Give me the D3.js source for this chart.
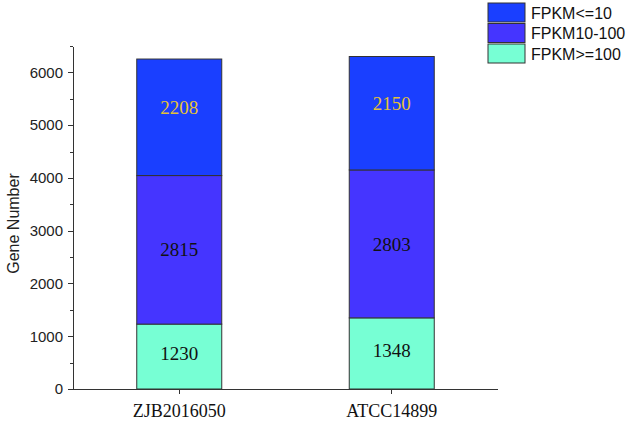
<!DOCTYPE html>
<html>
<head>
    <meta charset="utf-8">
    <title>Gene Number</title>
    <script src="https://cdn.jsdelivr.net/npm/d3@7"></script>
    <style>
        body { margin: 0; background: #fff; }
        .axis path, .axis line { stroke: #333; shape-rendering: crispEdges; }
        .axis text { font: 15px Arial, "Liberation Sans", sans-serif; fill: #222; }
        .x.axis text { font: 18px "Times New Roman", "Liberation Serif", serif; fill: #111; }
    </style>
</head>
<body>
<script>

var strains = ["ZJB2016050", "ATCC14899"];
var groups = ["FPKM>=100", "FPKM10-100", "FPKM<=10"];
var fpkmHigh = [1230, 1348];
var fpkmMid = [2815, 2803];
var fpkmLow = [2208, 2150];
var yTicks = [0, 1000, 2000, 3000, 4000, 5000, 6000];
var legendOrder = ["FPKM<=10", "FPKM10-100", "FPKM>=100"];

var colors = {
    "FPKM>=100": "#77ffd4",
    "FPKM10-100": "#4535ff",
    "FPKM<=10": "#1a3fff"
};
var labelColors = {
    "FPKM>=100": "#111",
    "FPKM10-100": "#111",
    "FPKM<=10": "#e6c235"
};

var width = 630, height = 422;
var margin = {left: 73, right: 132, top: 46, bottom: 33};

var table = strains.map(function(s, i) {
    return {strain: s, "FPKM>=100": fpkmHigh[i], "FPKM10-100": fpkmMid[i], "FPKM<=10": fpkmLow[i]};
});
var stacked = d3.stack().keys(groups)(table);

var svg = d3.select("body").append("svg")
    .attr("width", width)
    .attr("height", height);

var x = d3.scaleBand()
    .domain(strains)
    .range([margin.left, width - margin.right])
    .paddingInner(0.6)
    .paddingOuter(0.3);

var y = d3.scaleLinear()
    .domain([0, 6500])
    .range([height - margin.bottom, margin.top]);

// bars
var layer = svg.selectAll(".layer")
    .data(stacked)
  .enter().append("g")
    .attr("class", "layer")
    .attr("fill", function(d) { return colors[d.key]; });

layer.selectAll("rect")
    .data(function(d) { return d; })
  .enter().append("rect")
    .attr("x", function(d) { return x(d.data.strain); })
    .attr("width", x.bandwidth())
    .attr("y", function(d) { return y(d[1]); })
    .attr("height", function(d) { return y(d[0]) - y(d[1]); })
    .attr("stroke", "#333")
    .attr("stroke-width", 1);

// value labels
layer.selectAll("text")
    .data(function(d) { return d.map(function(p) { p.key = d.key; return p; }); })
  .enter().append("text")
    .attr("x", function(d) { return x(d.data.strain) + x.bandwidth() / 2; })
    .attr("y", function(d) {
        var mid = (y(d[0]) + y(d[1])) / 2;
        return d.key == "FPKM<=10" ? mid - 10 : (d.key == "FPKM>=100" ? mid - 3 : mid);
    })
    .attr("dy", "0.35em")
    .attr("text-anchor", "middle")
    .style("font", "19px 'Times New Roman', 'Liberation Serif', serif")
    .attr("fill", function(d) { return labelColors[d.key]; })
    .text(function(d) { return d.data[d.key]; });

// x axis
svg.append("g")
    .attr("class", "x axis")
    .attr("transform", "translate(0," + y(0) + ")")
    .call(d3.axisBottom(x).tickSizeInner(5).tickSizeOuter(0).tickPadding(10))
  .select(".domain")
    .attr("d", "M" + (margin.left - 5) + ",0.5H" + (width - margin.right));

// y axis, minor ticks first
svg.append("g")
    .attr("class", "y axis minor")
    .attr("transform", "translate(" + margin.left + ",0)")
    .call(d3.axisLeft(y).tickValues(d3.range(500, 7000, 1000)).tickSize(3).tickFormat(""))
  .select(".domain").remove();

svg.append("g")
    .attr("class", "y axis")
    .attr("transform", "translate(" + margin.left + ",0)")
    .call(d3.axisLeft(y).tickValues(yTicks).tickFormat(d3.format("d"))
        .tickSizeInner(5).tickSizeOuter(0).tickPadding(5));

svg.append("text")
    .attr("transform", "translate(19," + ((margin.top + height - margin.bottom) / 2 + 6) + ") rotate(-90)")
    .attr("text-anchor", "middle")
    .style("font", "16px Arial, 'Liberation Sans', sans-serif")
    .attr("fill", "#222")
    .text("Gene Number");

// legend
var legend = svg.append("g")
    .attr("transform", "translate(488,3)");

var item = legend.selectAll("g")
    .data(legendOrder)
  .enter().append("g")
    .attr("transform", function(d, i) { return "translate(0," + (i * 20.5) + ")"; });

item.append("rect")
    .attr("width", 37)
    .attr("height", 19)
    .attr("fill", function(d) { return colors[d]; })
    .attr("stroke", "#333");

item.append("text")
    .attr("x", 43)
    .attr("y", 10)
    .attr("dy", "0.35em")
    .style("font", "16px Arial, 'Liberation Sans', sans-serif")
    .attr("fill", "#111")
    .text(function(d) { return d; });

</script>
</body>
</html>
